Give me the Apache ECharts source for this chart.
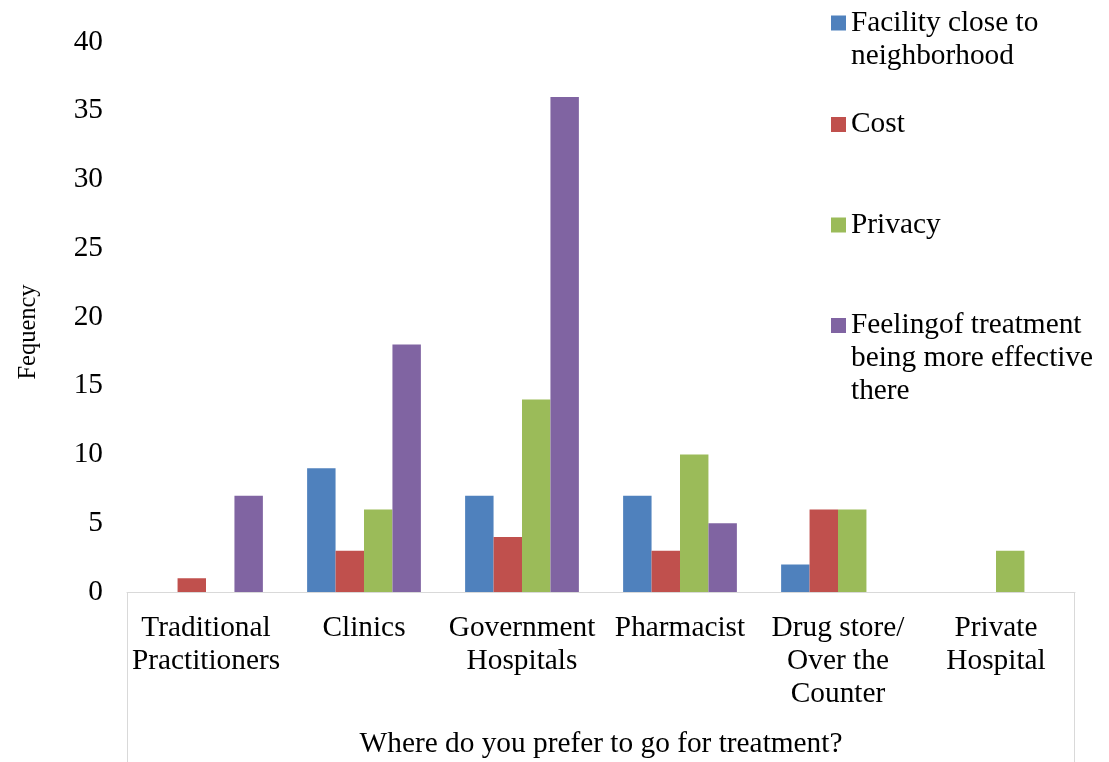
<!DOCTYPE html>
<html><head><meta charset="utf-8">
<script src="https://cdn.jsdelivr.net/npm/echarts@6/dist/echarts.min.js"></script>
<style>html,body{margin:0;padding:0;background:#fff}#c{width:1109px;height:762px}</style>
</head><body><div id="c"></div>
<script>
const categories = ['Traditional Practitioners','Clinics','Government Hospitals','Pharmacist','Drug store/ Over the Counter','Private Hospital'];
const categoryLabels = ['Traditional\nPractitioners','Clinics','Government\nHospitals','Pharmacist','Drug store/\nOver the\nCounter','Private\nHospital'];
const seriesNames = ['Facility close to neighborhood','Cost','Privacy','Feelingof treatment being more effective there'];
const legendLabels = ['Facility close to\nneighborhood','Cost','Privacy','Feelingof treatment\nbeing more effective\nthere'];
const facility = [0, 9, 7, 7, 2, 0];
const cost = [1, 3, 4, 3, 6, 0];
const privacy = [0, 6, 14, 10, 6, 3];
const feeling = [7, 18, 36, 5, 0, 0];
const yTicks = [0, 5, 10, 15, 20, 25, 30, 35, 40];
const colors = ['#4F81BD','#C0504D','#9BBB59','#8064A2'];

const FONT = '"Liberation Serif", "Times New Roman", serif';
const FS = 29.33;
const G = {left:127, right:34, top:42, bottom:170};
const LH = 33;
const legendCenters = [23, 124.5, 225, 325.5];

const legends = legendLabels.map((lab, i) => {
  const lines = lab.split('\n').length;
  const padLines = lines - 1;
  const text = ' \n'.repeat(padLines) + lab;
  const blockH = (lines + padLines) * LH;
  return {
    show: true,
    data: [seriesNames[i]],
    left: 831,
    top: legendCenters[i] - blockH / 2,
    padding: 0,
    itemWidth: 15, itemHeight: 15, itemGap: 0,
    icon: 'rect',
    selectedMode: false,
    formatter: () => text,
    textStyle: {fontFamily: FONT, fontSize: FS, color: '#000', lineHeight: LH}
  };
});

const dataSets = [facility, cost, privacy, feeling];
const chart = echarts.init(document.getElementById('c'), null, {renderer: 'canvas'});
chart.setOption({
  animation: false,
  color: colors,
  grid: {left: G.left, right: G.right, top: G.top, bottom: G.bottom, containLabel: false, outerBoundsMode: 'none'},
  legend: legends,
  xAxis: {
    type: 'category',
    data: categories,
    axisLine: {show: true, lineStyle: {color: '#D9D9D9', width: 1}},
    axisTick: {show: false},
    axisLabel: {
      interval: 0, margin: 20, fontFamily: FONT, fontSize: FS, color: '#000', lineHeight: LH,
      formatter: (v, i) => categoryLabels[i]
    },
    name: 'Where do you prefer to go for treatment?',
    nameLocation: 'middle',
    nameGap: 138,
    nameTextStyle: {fontFamily: FONT, fontSize: FS, color: '#000'}
  },
  yAxis: {
    type: 'value',
    min: yTicks[0], max: yTicks[yTicks.length - 1], interval: 5,
    axisLine: {show: false},
    axisTick: {show: false},
    splitLine: {show: false},
    axisLabel: {margin: 24, fontFamily: FONT, fontSize: FS, color: '#000'},
    name: 'Fequency',
    nameLocation: 'middle',
    nameRotate: 90,
    nameGap: 86,
    nameTextStyle: {fontFamily: FONT, fontSize: 24.5, color: '#000', padding: [0, 30, 0, 0]}
  },
  graphic: [
    {type: 'line', shape: {x1: G.left + 0.5, y1: 762 - G.bottom, x2: G.left + 0.5, y2: 770}, style: {stroke: '#D9D9D9', lineWidth: 1}},
    {type: 'line', shape: {x1: 1109 - G.right - 0.5, y1: 762 - G.bottom, x2: 1109 - G.right - 0.5, y2: 770}, style: {stroke: '#D9D9D9', lineWidth: 1}}
  ],
  series: dataSets.map((d, i) => ({
    name: seriesNames[i],
    type: 'bar',
    data: d,
    barGap: '0%',
    barCategoryGap: '28%',
    itemStyle: {color: colors[i]}
  }))
});
</script></body></html>
